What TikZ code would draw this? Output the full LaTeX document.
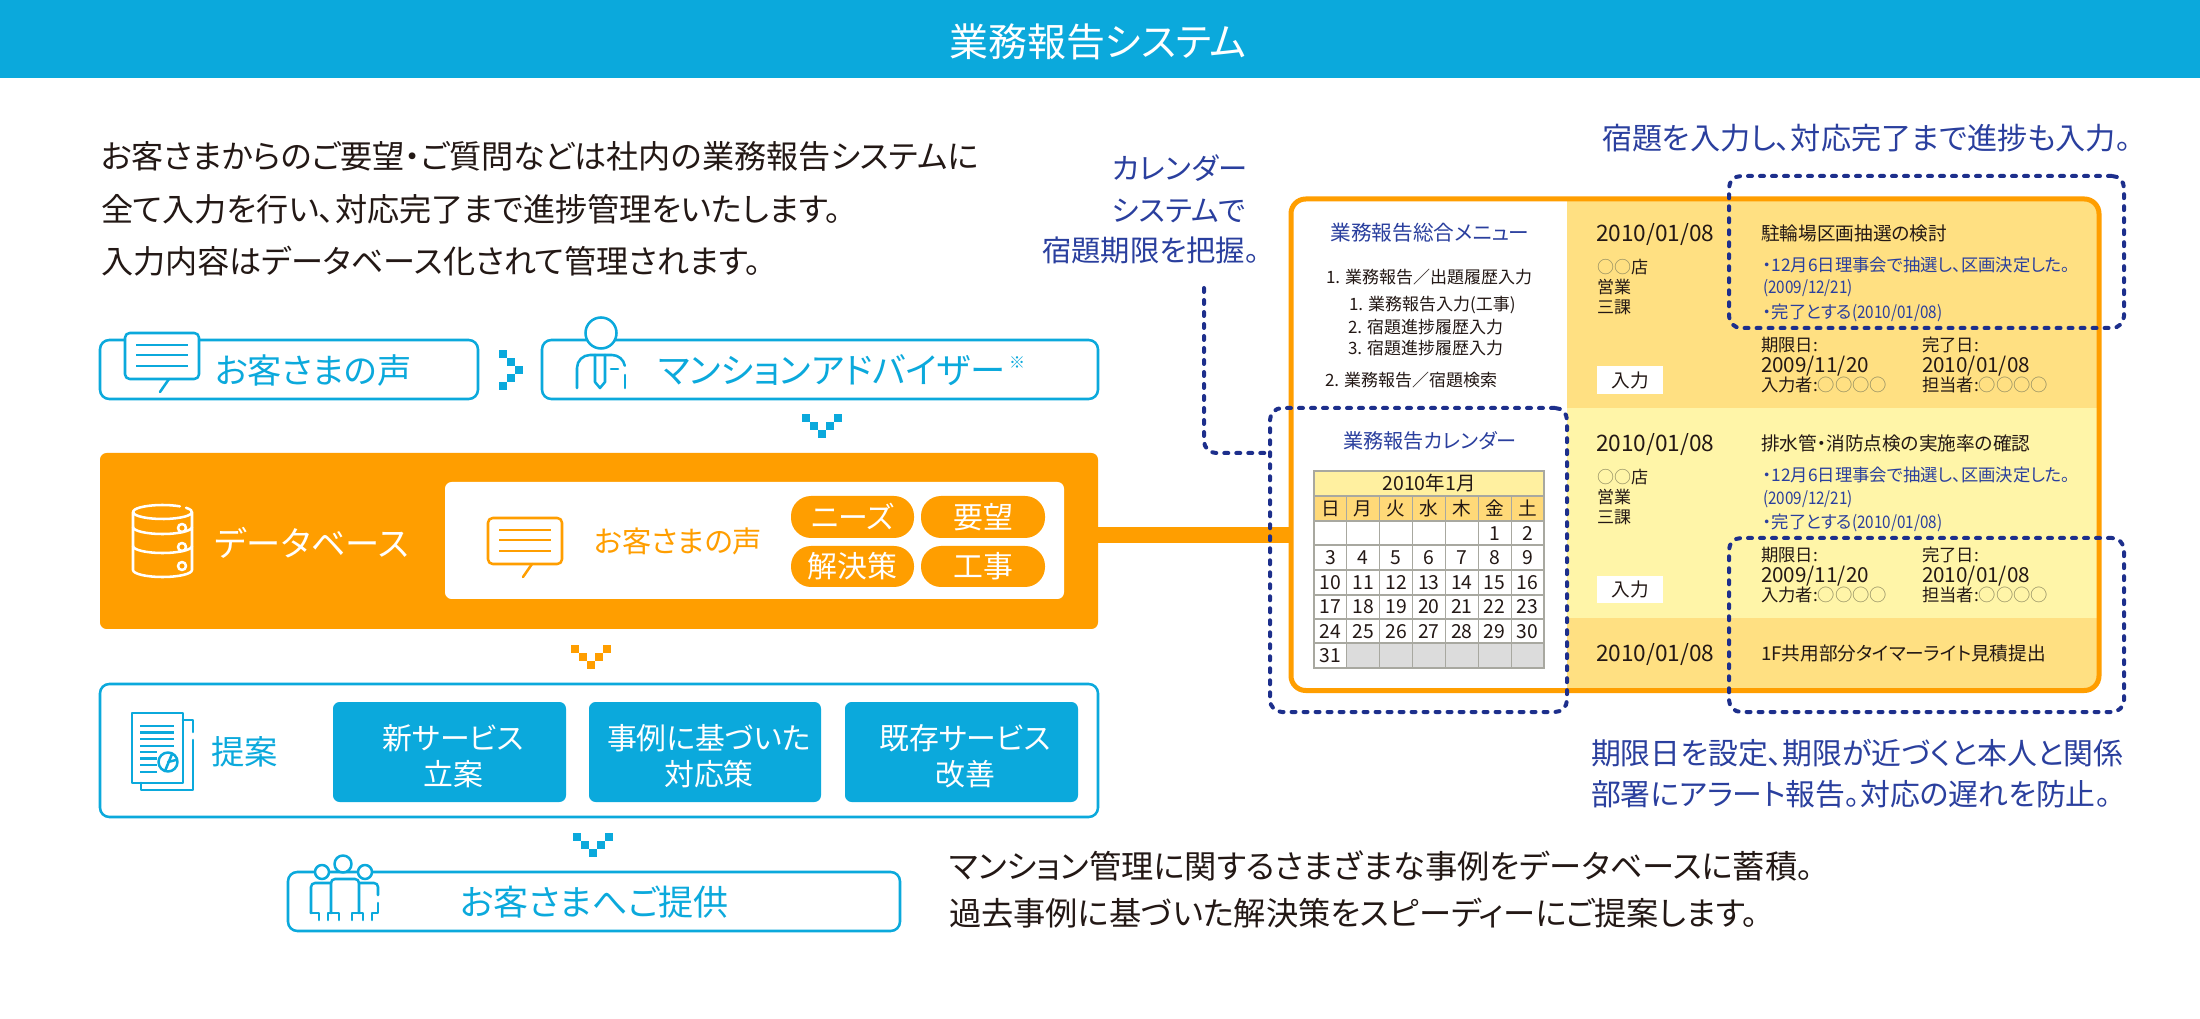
\documentclass[tikz,border=0pt]{standalone}
\usepackage{fontspec}
\usepackage{graphicx}
\setmainfont{Noto Sans CJK JP}[RawFeature=+palt]
\definecolor{cyanmain}{HTML}{0BA9DC}
\definecolor{orangemain}{HTML}{FF9E00}
\definecolor{navydot}{HTML}{1D2F8C}
\definecolor{navytext}{HTML}{2A3F9E}
\definecolor{inktext}{HTML}{231815}
\definecolor{rowdark}{HTML}{FFE082}
\definecolor{rowlight}{HTML}{FFF5A8}
\definecolor{calhead}{HTML}{FFF0A0}
\definecolor{calweek}{HTML}{FFD978}
\definecolor{calgray}{HTML}{DCDCDC}
\definecolor{calline}{HTML}{A8A8A0}
\definecolor{circlegray}{HTML}{8C8860}
\newcommand\narrowdigits[1]{\scalebox{0.88}[1]{#1}}
\tikzset{
  ts/.style={font=\fontsize{#1}{#1}\selectfont, inner sep=0pt, outer sep=0pt, text height=0.88*#1 pt, text depth=0.12*#1 pt},
  lt/.style={ts=#1, anchor=west},
  ct/.style={ts=#1, anchor=center},
  cyanbox/.style={draw=cyanmain, line width=1.9pt, fill=white, rounded corners=7pt, inner sep=0pt, outer sep=0pt},
  solidbox/.style={fill=#1, rounded corners=5pt, inner sep=0pt, outer sep=0pt},
  pillbox/.style={fill=orangemain, rounded corners=15pt, inner sep=0pt, outer sep=0pt},
  dotbox/.style={draw=navydot, line width=3pt, dash pattern=on 3pt off 6pt, line cap=round, rounded corners=9pt, inner sep=0pt, outer sep=0pt},
  dotline/.style={draw=navydot, line width=3pt, dash pattern=on 3pt off 6pt, line cap=round, rounded corners=9pt},
  iconline/.style={line width=1.9pt, line cap=round, line join=round},
}
% rectangle node from corner coordinates: style, name, x1, y1, x2, y2
\newcommand\rectnode[6]{\node[#1, minimum width={(#5-#3)*0.75pt}, minimum height={(#6-#4)*0.75pt}] (#2) at ({(#3+#5)/2},{(#4+#6)/2}) {};}
\newcommand\blocks[2]{\foreach \bx/\by in {#2}{\fill[#1] (\bx,\by) rectangle ++(8,8);}}
\newcommand\chevdown[3]{\begin{scope}[shift={(#1,#2)}]\blocks{#3}{0/0,8/8,16/16,24/8,32/0}\end{scope}}
\newcommand\chevright[3]{\begin{scope}[shift={(#1,#2)}]\blocks{#3}{0/0,8/8,16/16,8/24,0/32}\end{scope}}
\newcommand\iconspeech[3]{\begin{scope}[shift={(#1,#2)}, iconline, draw=#3]
  \draw[fill=white, rounded corners=3.5pt] (0,0) rectangle (74,46);
  \draw (35,59) -- (44,46);
  \foreach \ly in {12,22,33}{\draw[line cap=butt] (11,\ly) -- (63,\ly);}
\end{scope}}
\begin{document}
\begin{tikzpicture}[x=0.75pt,y=-0.75pt]
\useasboundingbox (0,0) rectangle (2200,1019);
\fill[white] (0,0) rectangle (2200,1019);
% header
\fill[cyanmain] (0,0) rectangle (2200,78);
\node[ct=29.2, white] (title) at (1098,42) {業務報告システム};
% intro
\node[lt=24.1, inktext] (intro1) at (101,156) {お客さまからのご要望・ご質問などは社内の業務報告システムに};
\node[lt=24.1, inktext] (intro2) at (101,209) {全て入力を行い、対応完了まで進捗管理をいたします。};
\node[lt=24.1, inktext] (intro3) at (101,261) {入力内容はデータベース化されて管理されます。};
% voice / advisor
\rectnode{cyanbox}{voice}{100}{340}{478}{399}
\rectnode{cyanbox}{advisor}{542}{340}{1098}{399}
\iconspeech{125}{333}{cyanmain}
\node[lt=25.7, cyanmain] (voicetext) at (215,370) {お客さまの声};
\chevright{499}{350}{cyanmain}
\draw[iconline, draw=cyanmain, fill=white] (601,333) circle (15.5);
\draw[iconline, draw=cyanmain] (577,388) -- (577,368) arc[start angle=180, end angle=270, radius=13] -- (612,355) arc[start angle=270, end angle=350, radius=13];
\draw[iconline, draw=cyanmain] (625,375) -- (625,388);
\draw[iconline, draw=cyanmain] (595,355) -- (595,382) -- (600,388) -- (605,382) -- (605,355);
\draw[iconline, draw=cyanmain] (611,369) -- (618,369);
\node[lt=26.5, cyanmain] (advisortext) at (658,370) {マンションアドバイザー};
\node[ct=12, cyanmain] (note) at (1017,362) {※};
\chevdown{802}{414}{cyanmain}
% database
\rectnode{solidbox=orangemain}{dbbox}{100}{453}{1098}{629}
\rectnode{solidbox=white}{dbinner}{445}{482}{1064}{599}
\begin{scope}[iconline, draw=white]
  \draw (162.5,512) ++(323:29.5 and 7) arc[start angle=323, end angle=666, x radius=29.5, y radius=7];
  \draw (133,512) -- (133,570) arc[start angle=180, end angle=0, x radius=29.5, y radius=7] -- (192,512);
  \draw (133,527) arc[start angle=180, end angle=0, x radius=29.5, y radius=7];
  \draw (133,546) arc[start angle=180, end angle=0, x radius=29.5, y radius=7];
  \foreach \cy in {528,547,566}{\draw[fill=orangemain] (182,\cy) circle (4);}
\end{scope}
\node[lt=25.7, white] (dbtext) at (215,543) {データベース};
\iconspeech{488}{518}{orangemain}
\node[lt=22, orangemain] (voice2) at (594,541) {お客さまの声};
\rectnode{pillbox}{p1}{791}{496}{914}{538}
\rectnode{pillbox}{p2}{921}{496}{1045}{538}
\rectnode{pillbox}{p3}{791}{546}{914}{587}
\rectnode{pillbox}{p4}{921}{546}{1045}{587}
\node[ct=22.4, white] at (p1) {ニーズ};
\node[ct=22.4, white] at (p2) {要望};
\node[ct=22.4, white] at (p3) {解決策};
\node[ct=22.4, white] at (p4) {工事};
\chevdown{571}{645}{orangemain}
% proposal
\rectnode{cyanbox}{proposal}{100}{684}{1098}{817}
\begin{scope}[iconline, draw=cyanmain]
  \draw (132,713) rectangle (183,783);
  \draw (183,720) -- (193,720) -- (193,732);
  \draw (193,740) -- (193,790) -- (141,790) -- (141,783);
  \foreach \ly in {726,732.5,739,746}{\draw[line cap=butt] (140,\ly) -- (174,\ly);}
  \foreach \ly in {752,758.5,765,772}{\draw[line cap=butt] (140,\ly) -- (157,\ly);}
  \draw[fill=white] (168,762) circle (9.5);
  \draw (172,754) -- (165,771);
  \draw (168,762) -- (176,760);
\end{scope}
\node[lt=25, cyanmain] (teian) at (211,752) {提案};
\rectnode{solidbox=cyanmain}{s1}{333}{702}{566}{802}
\rectnode{solidbox=cyanmain}{s2}{589}{702}{821}{802}
\rectnode{solidbox=cyanmain}{s3}{845}{702}{1078}{802}
\node[ct=22.4, white] at (453,738) {新サービス};
\node[ct=22.4, white] at (453,774) {立案};
\node[ct=22.4, white] at (709,738) {事例に基づいた};
\node[ct=22.4, white] at (709,774) {対応策};
\node[ct=22.4, white] at (965,738) {既存サービス};
\node[ct=22.4, white] at (965,774) {改善};
\chevdown{573}{833}{cyanmain}
% offer
\rectnode{cyanbox}{offer}{288}{872}{900}{931}
\begin{scope}[iconline, draw=cyanmain]
  \draw[fill=white] (322,872) circle (7);
  \draw[fill=white] (365,872) circle (7);
  \draw[fill=white] (343,864) circle (8.5);
  \draw[rounded corners=3pt] (331,913) -- (331,879) -- (359,879) -- (359,913);
  \draw[rounded corners=3pt] (331,883) -- (311,883) -- (311,913);
  \draw (311,913) -- (319,913) -- (319,920);
  \draw (328,920) -- (328,913) -- (339,913) -- (339,920);
  \draw (352,920) -- (352,913) -- (363,913) -- (363,920);
  \draw[rounded corners=3pt] (359,883) -- (378,883) -- (378,895);
  \draw (378,903) -- (378,913) -- (372,913) -- (372,920);
\end{scope}
\node[lt=26.3, cyanmain] (offertext) at (460,902) {お客さまへご提供};
% bottom text
\node[lt=24.2, inktext] (sum1) at (949,866) {マンション管理に関するさまざまな事例をデータベースに蓄積。};
\node[lt=24.2, inktext] (sum2) at (949,913) {過去事例に基づいた解決策をスピーディーにご提案します。};
% right panel
\node[draw=none, fill=white, rounded corners=11pt, minimum width={808*0.75pt}, minimum height={491.5*0.75pt}, inner sep=0pt, outer sep=0pt] (frame) at (1695,444.75) {};
\begin{scope}
  \clip[rounded corners=11pt] (1291,199) rectangle (2099,690.5);
  \fill[rowdark] (1567,190) rectangle (2110,408);
  \fill[rowlight] (1567,408) rectangle (2110,618);
  \fill[rowdark] (1567,618) rectangle (2110,700);
\end{scope}
\draw[draw=orangemain, line width=3.75pt, rounded corners=11pt] (1291,199) rectangle (2099,690.5);
\coordinate (barmid) at (1190,535);
\draw[draw=orangemain, line width=12pt] (dbbox.east |- barmid) -- (frame.west |- barmid);
% menu
\node[ct=15.5, navytext] (menutitle) at (1430,233) {業務報告総合メニュー};
\node[lt=12.75, inktext] at (1326,277) {1. 業務報告／出題履歴入力};
\node[lt=12.75, inktext] at (1349,304) {1. 業務報告入力(工事)};
\node[lt=12.75, inktext] at (1348,327) {2. 宿題進捗履歴入力};
\node[lt=12.75, inktext] at (1348,348) {3. 宿題進捗履歴入力};
\node[lt=12.75, inktext] at (1325,380) {2. 業務報告／宿題検索};
% row 1
\node[lt=17, inktext] at (1596,233) {2010/01/08};
\node[lt=12.75, inktext] at (1597,267) {{\color{circlegray}○○}店};
\node[lt=12.75, inktext] at (1597,287) {営業};
\node[lt=12.75, inktext] at (1597,307) {三課};
\rectnode{solidbox=white, rounded corners=0pt}{in1}{1597}{366}{1663}{394}
\node[ct=14, inktext] at (in1) {入力};
\node[lt=14, inktext] at (1761,233) {駐輪場区画抽選の検討};
\node[lt=13, navytext] at (1763,265) {・12月6日理事会で抽選し、区画決定した。};
\node[lt=13, navytext] at (1763,287) {\narrowdigits{(2009/12/21)}};
\node[lt=13, navytext] at (1763,312) {・完了とする\narrowdigits{(2010/01/08)}};
\node[lt=13, inktext] at (1761,345) {期限日:};
\node[lt=15.5, inktext] at (1761,365) {2009/11/20};
\node[lt=13, inktext] at (1761,385) {入力者:{\color{circlegray}○○○○}};
\node[lt=13, inktext] at (1922,345) {完了日:};
\node[lt=15.5, inktext] at (1922,365) {2010/01/08};
\node[lt=13, inktext] at (1922,385) {担当者:{\color{circlegray}○○○○}};
% row 2
\node[lt=17, inktext] at (1596,443) {2010/01/08};
\node[lt=12.75, inktext] at (1597,477) {{\color{circlegray}○○}店};
\node[lt=12.75, inktext] at (1597,497) {営業};
\node[lt=12.75, inktext] at (1597,517) {三課};
\rectnode{solidbox=white, rounded corners=0pt}{in2}{1597}{576}{1663}{603}
\node[ct=14, inktext] at (in2) {入力};
\node[lt=14, inktext] at (1761,443) {排水管・消防点検の実施率の確認};
\node[lt=13, navytext] at (1763,475) {・12月6日理事会で抽選し、区画決定した。};
\node[lt=13, navytext] at (1763,498) {\narrowdigits{(2009/12/21)}};
\node[lt=13, navytext] at (1763,522) {・完了とする\narrowdigits{(2010/01/08)}};
\node[lt=13, inktext] at (1761,555) {期限日:};
\node[lt=15.5, inktext] at (1761,575) {2009/11/20};
\node[lt=13, inktext] at (1761,595) {入力者:{\color{circlegray}○○○○}};
\node[lt=13, inktext] at (1922,555) {完了日:};
\node[lt=15.5, inktext] at (1922,575) {2010/01/08};
\node[lt=13, inktext] at (1922,595) {担当者:{\color{circlegray}○○○○}};
% row 3
\node[lt=17, inktext] at (1596,653) {2010/01/08};
\node[lt=14, inktext] at (1761,653) {1F共用部分タイマーライト見積提出};
% calendar
\node[ct=15.1, navytext] (caltitle) at (1430,441) {業務報告カレンダー};
\fill[calhead] (1314,471) rectangle (1544,496);
\fill[calweek] (1314,496) rectangle (1544,521);
\fill[calgray] (1347,643) rectangle (1544,668);
\draw[calline, line width=0.9pt] (1314,471) rectangle (1544,668);
\foreach \ly in {496,521,545,570,595,619,643}{\draw[calline, line width=0.9pt] (1314,\ly) -- (1544,\ly);}
\foreach \ci in {1,...,6}{\draw[calline, line width=0.9pt] ({1314+\ci*32.857},496) -- ({1314+\ci*32.857},668);}
\node[ct=14.6, inktext] (calhd) at (1429,483) {2010年1月};
\foreach \lab [count=\ci from 0] in {日,月,火,水,木,金,土}{\node[ct=14, inktext] at ({1330.4+\ci*32.857},508.5) {\lab};}
\foreach \lab/\ci/\cj in {1/5/0,2/6/0,3/0/1,4/1/1,5/2/1,6/3/1,7/4/1,8/5/1,9/6/1,10/0/2,11/1/2,12/2/2,13/3/2,14/4/2,15/5/2,16/6/2,17/0/3,18/1/3,19/2/3,20/3/3,21/4/3,22/5/3,23/6/3,24/0/4,25/1/4,26/2/4,27/3/4,28/4/4,29/5/4,30/6/4,31/0/5}{\node[ct=14.5, inktext] at ({1330.4+\ci*32.857},{533.2+\cj*24.4}) {\lab};}
% dotted
\rectnode{dotbox}{dot1}{1729}{176}{2124}{328}
\rectnode{dotbox}{dot2}{1270}{408}{1567}{712}
\rectnode{dotbox}{dot3}{1729}{538}{2124}{712}
\coordinate (leadtop) at (1204,288);
\coordinate (leadmid) at (1204,453);
\draw[dotline] (leadtop) -- (leadmid) -- (dot2.west |- leadmid);
% captions
\node[ct=22, navytext] at (1180,168) {カレンダー};
\node[ct=22, navytext] at (1179,210) {システムで};
\node[lt=22, navytext] at (1042,250) {宿題期限を把握。};
\node[lt=22.6, navytext] at (1602,138) {宿題を入力し、対応完了まで進捗も入力。};
\node[lt=22.4, navytext] at (1591,753) {期限日を設定、期限が近づくと本人と関係};
\node[lt=22.4, navytext] at (1591,794) {部署にアラート報告。対応の遅れを防止。};
\end{tikzpicture}
\end{document}
